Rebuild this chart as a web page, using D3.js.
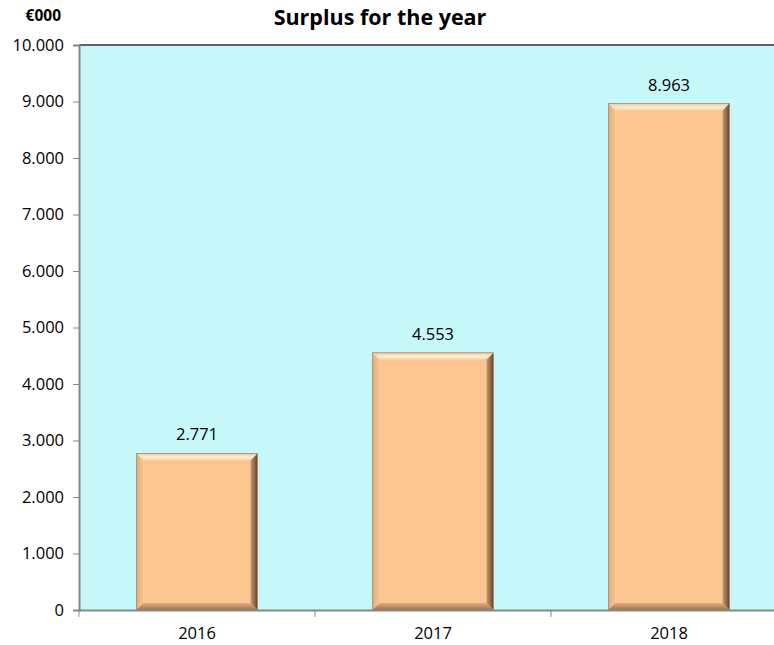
<!DOCTYPE html>
<html><head><meta charset="utf-8">
<script src="https://cdn.jsdelivr.net/npm/d3@7"></script>
<style>body{margin:0;background:#fff}svg{display:block}</style>
</head><body>
<svg id="c" width="774" height="645"></svg>
<script>
const categories = ["2016", "2017", "2018"];
const values = [2771, 4553, 8963];
const valueLabels = ["2.771", "4.553", "8.963"];
const yTicks = [0, 1000, 2000, 3000, 4000, 5000, 6000, 7000, 8000, 9000, 10000];
const yTickLabels = ["0", "1.000", "2.000", "3.000", "4.000", "5.000", "6.000", "7.000", "8.000", "9.000", "10.000"];

const svg = d3.select("#c");
const font = "'Open Sans', 'Noto Sans', sans-serif";
const L = 79, R = 787, T = 45, B = 610;
const fs = 16.5;

const x = d3.scaleBand().domain(categories).range([L, R]).padding(0);
const y = d3.scaleLinear().domain([0, 10000]).range([B, T]);

const defs = svg.append("defs");
const g1 = defs.append("linearGradient").attr("id","rgrad").attr("x1",0).attr("x2",1).attr("y1",0).attr("y2",0);
g1.append("stop").attr("offset",0).attr("stop-color","#c89a70");
g1.append("stop").attr("offset",1).attr("stop-color","#5e4535");
const g2 = defs.append("linearGradient").attr("id","tgrad").attr("x1",0).attr("x2",0).attr("y1",0).attr("y2",1);
g2.append("stop").attr("offset",0).attr("stop-color","#f2c49a");
g2.append("stop").attr("offset",0.5).attr("stop-color","#fff0d2");
g2.append("stop").attr("offset",1).attr("stop-color","#fdd0a0");
const g3 = defs.append("linearGradient").attr("id","bgrad").attr("x1",0).attr("x2",0).attr("y1",0).attr("y2",1);
g3.append("stop").attr("offset",0).attr("stop-color","#e2aa7c");
g3.append("stop").attr("offset",1).attr("stop-color","#9c7454");
const g4 = defs.append("linearGradient").attr("id","lgrad").attr("x1",0).attr("x2",1).attr("y1",0).attr("y2",0);
g4.append("stop").attr("offset",0).attr("stop-color","#d8a47c");
g4.append("stop").attr("offset",1).attr("stop-color","#fcc591");

svg.append("rect").attr("x", L).attr("y", T).attr("width", R - L).attr("height", B - T).attr("fill", "#c6f8fa");
svg.append("line").attr("x1", L).attr("x2", R).attr("y1", T).attr("y2", T).attr("stroke", "#333").attr("stroke-width", 1.5);

const yAxis = d3.axisLeft(y).tickValues(yTicks).tickFormat((d, i) => yTickLabels[i]).tickSize(6).tickPadding(9);
const ya = svg.append("g").attr("transform", `translate(${L},0)`).call(yAxis);
ya.select(".domain").attr("stroke", "#888").attr("stroke-width", 2);
ya.selectAll(".tick line").attr("stroke", "#888");
ya.selectAll("text").attr("font-family", font).attr("font-size", fs).attr("fill", "#000");

const bw = x.bandwidth() * 0.513;
const bev = 7;
const bars = svg.append("g").selectAll("g").data(values).join("g");
bars.each(function(v, i) {
  const gg = d3.select(this);
  const x0 = x(categories[i]) + (x.bandwidth() - bw) / 2, x1 = x0 + bw;
  const y0 = y(v), y1 = y(0);
  gg.append("rect").attr("x", x0).attr("y", y0).attr("width", bw).attr("height", y1 - y0).attr("fill", "#fdc690");
  gg.append("polygon").attr("points", [[x0,y0],[x1,y0],[x1-bev,y0+bev],[x0+bev,y0+bev]].join(" ")).attr("fill", "url(#tgrad)");
  gg.append("polygon").attr("points", [[x0,y0],[x0+bev,y0+bev],[x0+bev,y1-bev],[x0,y1]].join(" ")).attr("fill", "url(#lgrad)").attr("opacity", 0.8);
  gg.append("polygon").attr("points", [[x1,y0],[x1,y1],[x1-bev,y1-bev],[x1-bev,y0+bev]].join(" ")).attr("fill", "url(#rgrad)");
  gg.append("polygon").attr("points", [[x0,y1],[x1,y1],[x1-bev,y1-bev],[x0+bev,y1-bev]].join(" ")).attr("fill", "url(#bgrad)");
  gg.append("rect").attr("x", x0).attr("y", y0).attr("width", bw).attr("height", y1 - y0).attr("fill", "none").attr("stroke", "#b08868").attr("stroke-width", 0.8);
});

svg.append("g").selectAll("text").data(values).join("text")
  .attr("x", (d, i) => x(categories[i]) + x.bandwidth() / 2)
  .attr("y", d => y(d) - 13)
  .attr("text-anchor", "middle").attr("font-family", font).attr("font-size", fs).attr("fill", "#000")
  .text((d, i) => valueLabels[i]);

const xAxis = d3.axisBottom(x).tickSize(0).tickPadding(17);
const xa = svg.append("g").attr("transform", `translate(0,${B})`).call(xAxis);
xa.select(".domain").attr("stroke", "#888").attr("stroke-width", 2);
xa.selectAll("text").attr("font-family", font).attr("font-size", fs).attr("fill", "#000");
svg.append("g").selectAll("line").data(categories.concat(["end"])).join("line")
  .attr("x1", (d, i) => L + i * x.step()).attr("x2", (d, i) => L + i * x.step())
  .attr("y1", B).attr("y2", B + 7).attr("stroke", "#888").attr("stroke-width", 1);

svg.append("text").attr("x", 380).attr("y", 25).attr("text-anchor", "middle")
  .attr("font-family", font).attr("font-weight", "bold").attr("font-size", 21.5).text("Surplus for the year");
svg.append("text").attr("x", 61).attr("y", 21).attr("text-anchor", "end")
  .attr("font-family", font).attr("font-weight", "bold").attr("font-size", 15.5).text("€000");
</script>
</body></html>
